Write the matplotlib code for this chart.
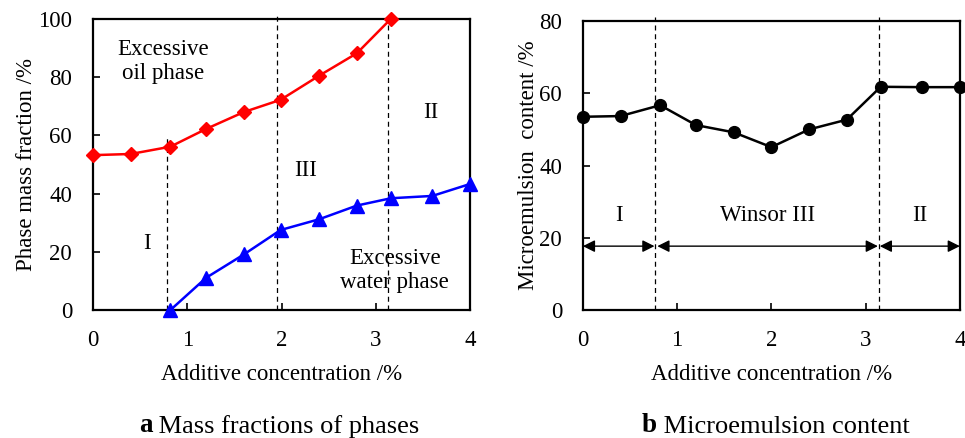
import matplotlib
matplotlib.use("Agg")
import matplotlib.pyplot as plt

plt.rcParams['font.family'] = ['Liberation Serif', 'DejaVu Serif']

# Panel a data
oil_x = [0, 0.4, 0.82, 1.2, 1.6, 1.99, 2.4, 2.8, 3.16]
oil_y = [53.2, 53.6, 56.1, 62.2, 68.0, 72.2, 80.5, 88.2, 100]
water_x = [0.82, 1.2, 1.6, 1.99, 2.4, 2.8, 3.16, 3.6, 4.0]
water_y = [0, 11.1, 19.1, 27.5, 31.2, 35.9, 38.4, 39.2, 43.3]
a_bounds = [0.78, 1.95, 3.13]
a_bound_tops = [60, 102, 100]

# Panel b data
me_x = [0, 0.4, 0.82, 1.2, 1.6, 2.0, 2.4, 2.8, 3.16, 3.6, 4.0]
me_y = [53.5, 53.7, 56.7, 51.2, 49.2, 45.1, 50.0, 52.7, 61.8, 61.7, 61.7]
b_bounds = [0.77, 3.14]
b_regions = [(0.0, 0.76, 'I'), (0.79, 3.13, 'Winsor III'), (3.15, 4.0, 'II')]

fs = 16.5
fig = plt.figure(figsize=(9.65, 4.38), dpi=100)
axa = fig.add_axes([0.0964, 0.292, 0.3907, 0.665])
axb = fig.add_axes([0.604, 0.292, 0.3907, 0.660])

for ax in (axa, axb):
    ax.tick_params(direction='in', labelsize=fs, length=5, width=1.2, pad=14,
                   top=False, right=False)
    ax.tick_params(axis='y', pad=15)
    for s in ax.spines.values():
        s.set_linewidth(1.6)
    ax.set_xlim(0, 4)
    ax.set_xticks([0, 1, 2, 3, 4])
    ax.set_xlabel('Additive concentration /%', fontsize=fs, labelpad=10)

# Panel a
axa.set_ylim(0, 100)
axa.set_yticks(range(0, 101, 20))
for xb, top in zip(a_bounds, a_bound_tops):
    axa.plot([xb, xb], [0, top], ls=(0, (4, 3)), color='black', lw=0.9, clip_on=False, zorder=1)
axa.plot(oil_x, oil_y, color='#ff0000', lw=1.8, marker='D', ms=7, clip_on=False, zorder=3)
axa.plot(water_x, water_y, color='#0000ff', lw=1.8, marker='^', ms=10, clip_on=False, zorder=3)
axa.set_ylabel('Phase mass fraction /%', fontsize=fs, labelpad=1)
axa.text(0.74, 85.4, 'Excessive\noil phase', fontsize=fs, ha='center', va='center', linespacing=1.2)
axa.text(3.2, 13.7, 'Excessive\nwater phase', fontsize=fs, ha='center', va='center', linespacing=1.2)
axa.text(0.57, 23, 'I', fontsize=fs, ha='center', va='center')
axa.text(2.26, 48, 'III', fontsize=fs, ha='center', va='center')
axa.text(3.58, 67.7, 'II', fontsize=fs, ha='center', va='center')

# Panel b
axb.set_ylim(0, 80)
axb.set_yticks(range(0, 81, 20))
for xb in b_bounds:
    axb.plot([xb, xb], [0, 81], ls=(0, (4, 3)), color='black', lw=0.9, clip_on=False, zorder=1)
axb.plot(me_x, me_y, color='black', lw=1.8, marker='o', ms=8.5, clip_on=False, zorder=3)
axb.set_ylabel('Microemulsion  content /%', fontsize=fs, labelpad=0)
for x0, x1, lab in b_regions:
    axb.annotate('', xy=(x0, 17.7), xytext=(x1, 17.7),
                 arrowprops=dict(arrowstyle='<|-|>', color='black', lw=1.0,
                                 mutation_scale=18, shrinkA=0, shrinkB=0))
    axb.text((x0 + x1) / 2, 26.3, lab, fontsize=fs, ha='center', va='center')

cy = 0.0
fig.text(0.158, cy, 'a', fontsize=19.5, ha='right', va='bottom', fontweight='bold')
fig.text(0.158, cy, ' Mass fractions of phases', fontsize=19, ha='left', va='bottom')
fig.text(0.681, cy, 'b', fontsize=19.5, ha='right', va='bottom', fontweight='bold')
fig.text(0.681, cy, ' Microemulsion content', fontsize=19, ha='left', va='bottom')

fig.savefig('out.png', dpi=100)
